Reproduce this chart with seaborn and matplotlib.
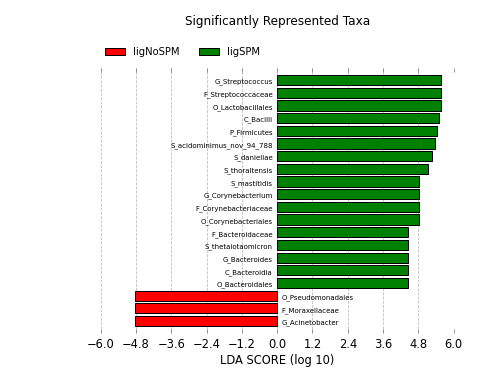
import pandas as pd
import matplotlib
matplotlib.use("Agg")
import matplotlib.pyplot as plt
import matplotlib.patches as mpatches
import seaborn as sns
import numpy as np

# taxa (top to bottom), LDA scores and group
taxa = ["G_Streptococcus", "F_Streptococcaceae", "O_Lactobacillales", "C_Bacilli",
        "P_Firmicutes", "S_acidominimus_nov_94_788", "S_daniellae", "S_thoraltensis",
        "S_mastitidis", "G_Corynebacterium", "F_Corynebacteriaceae", "O_Corynebacteriales",
        "F_Bacteroidaceae", "S_thetaiotaomicron", "G_Bacteroides", "C_Bacteroidia",
        "O_Bacteroidales", "O_Pseudomonadales", "F_Moraxellaceae", "G_Acinetobacter"]
lda = [5.58, 5.58, 5.58, 5.50, 5.44, 5.37, 5.27, 5.13, 4.82, 4.82, 4.82, 4.82,
       4.45, 4.45, 4.45, 4.45, 4.45, -4.85, -4.85, -4.85]
group = ["ligSPM"] * 17 + ["ligNoSPM"] * 3
classes = ["ligNoSPM", "ligSPM"]
colors = {"ligNoSPM": "#ff0000", "ligSPM": "#008000"}
xticks = [-6.0, -4.8, -3.6, -2.4, -1.2, 0.0, 1.2, 2.4, 3.6, 4.8, 6.0]

df = pd.DataFrame({"taxon": taxa, "lda": lda, "group": group})

sns.set_style("white")
plt.rcParams["font.family"] = ["DejaVu Sans"]
plt.rcParams["text.color"] = "black"
plt.rcParams["axes.labelcolor"] = "black"
plt.rcParams["xtick.color"] = "black"

fig = plt.figure(figsize=(7, 5.25), dpi=72)
ax = fig.add_axes([0.2, 0.119, 0.7, 0.701])

sns.barplot(data=df, x="lda", y="taxon", hue="group", palette=colors,
            hue_order=classes, dodge=False, width=0.8, orient="h", saturation=1,
            edgecolor="black", linewidth=1, legend=False, ax=ax, zorder=3)

# labels next to zero
for i, (t, v) in enumerate(zip(taxa, lda)):
    if v > 0:
        ax.text(-0.15, i + 0.15, t, ha="right", va="center", fontsize=7)
    else:
        ax.text(0.15, i + 0.15, t, ha="left", va="center", fontsize=7)

ax.set_yticks([])
ax.set_ylabel("")
ax.set_ylim(19.95, -0.95)
ax.set_xlim(-6.0, 6.0)
ax.set_xticks(xticks)
ax.set_xticklabels([f"{x:.1f}".replace("-", "\u2212") for x in xticks], fontsize=11.5)
ax.tick_params(axis="x", direction="in", length=4, color="gray", top=True, bottom=True, pad=5)
ax.xaxis.grid(True, linestyle="--", color="#bbbbbb", linewidth=0.8, zorder=0)
ax.set_axisbelow(True)
for s in ax.spines.values():
    s.set_visible(False)
ax.set_xlabel("LDA SCORE (log 10)", fontsize=11.5, labelpad=3)

handles = [mpatches.Patch(facecolor=colors[c], edgecolor="black", label=c) for c in classes]
ax.legend(handles=handles, loc="lower left", bbox_to_anchor=(0.0, 1.025), ncol=2,
          frameon=False, fontsize=10, borderaxespad=0, columnspacing=2.0, handlelength=2.0)

fig.suptitle("Significantly Represented Taxa", fontsize=12, x=0.55, y=0.96)
fig.savefig("out.png", dpi=72)
